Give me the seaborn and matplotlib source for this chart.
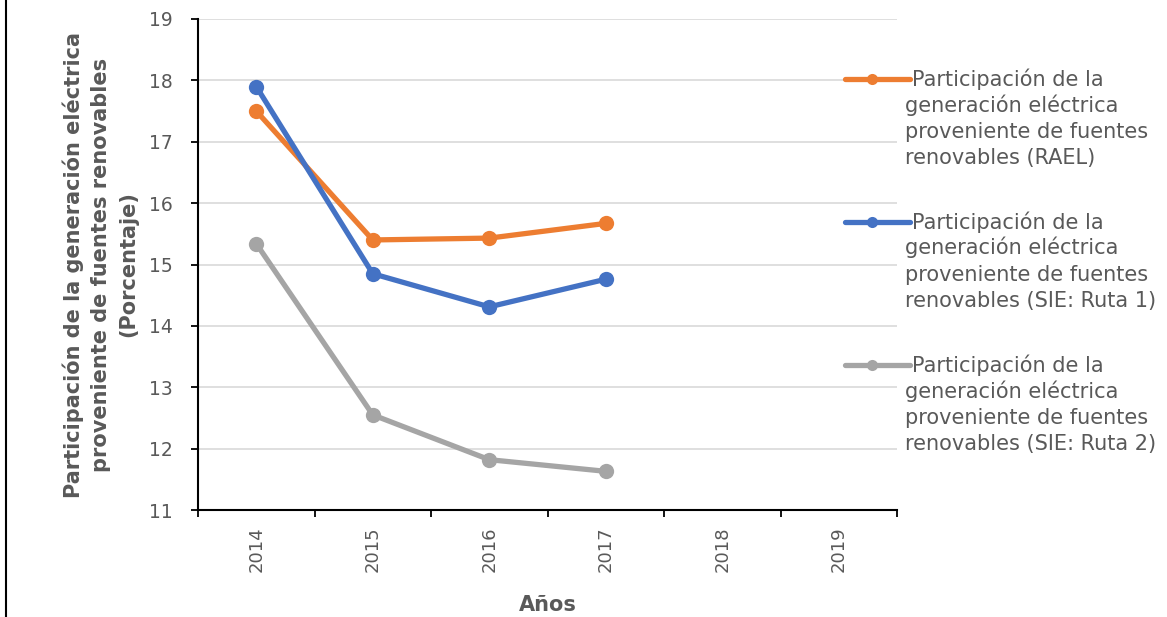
import matplotlib
matplotlib.use("Agg")
import matplotlib.pyplot as plt
import seaborn as sns
import pandas as pd
from matplotlib.ticker import MultipleLocator, FixedLocator
from matplotlib.lines import Line2D

# values
years = [2014, 2015, 2016, 2017, 2018, 2019]
data_years = [2014, 2015, 2016, 2017]
rael = [17.50, 15.40, 15.43, 15.67]
sie_ruta1 = [17.90, 14.85, 14.31, 14.76]
sie_ruta2 = [15.34, 12.55, 11.82, 11.63]

series_names = [
    "Participación de la\ngeneración eléctrica\nproveniente de fuentes\nrenovables (RAEL)",
    "Participación de la\ngeneración eléctrica\nproveniente de fuentes\nrenovables (SIE: Ruta 1)",
    "Participación de la\ngeneración eléctrica\nproveniente de fuentes\nrenovables (SIE: Ruta 2)",
]
colors = ["#ED7D31", "#4472C4", "#A5A5A5"]

df = pd.DataFrame({
    "year": data_years * 3,
    "value": rael + sie_ruta1 + sie_ruta2,
    "serie": [series_names[0]] * 4 + [series_names[1]] * 4 + [series_names[2]] * 4,
})

sns.set_style("white")
plt.rcParams["font.family"] = ["DejaVu Sans"]
text_gray = "#595959"

W, H = 1167, 617
fig = plt.figure(figsize=(W / 100, H / 100), dpi=100)
ax = fig.add_axes([198 / W, 1 - 510 / H, (897 - 198) / W, (510 - 19) / H])

sns.lineplot(data=df, x="year", y="value", hue="serie", palette=colors,
             marker="o", markersize=11, markeredgewidth=0, linewidth=3.8,
             ax=ax, legend=False)

ax.set_ylim(11, 19)
ax.set_xlim(2013.5, 2019.5)
ax.yaxis.set_major_locator(MultipleLocator(1))
ax.grid(axis="y", color="#D9D9D9", linewidth=1.2)
ax.set_axisbelow(True)

ax.set_xticks(years)
ax.set_xticklabels([str(y) for y in years], rotation=90, color=text_gray, fontsize=13)
ax.xaxis.set_minor_locator(FixedLocator([y - 0.5 for y in years] + [2019.5]))
ax.tick_params(axis="x", which="major", length=0, pad=12)
ax.tick_params(axis="x", which="minor", bottom=True, length=5, width=1.3,
               color="black", direction="out")
ax.tick_params(axis="y", left=True, length=5, width=1.3, color="black", labelsize=13.5,
               labelcolor=text_gray, pad=13)

for side in ["top", "right"]:
    ax.spines[side].set_visible(False)
for side in ["left", "bottom"]:
    ax.spines[side].set_color("black")
    ax.spines[side].set_linewidth(1.5)

ax.set_xlabel("Años", fontsize=15, fontweight="bold", color=text_gray, labelpad=16)
ax.set_ylabel("Participación de la generación eléctrica\nproveniente de fuentes renovables\n(Porcentaje)",
              fontsize=15, fontweight="bold", color=text_gray, labelpad=8, linespacing=1.45)

# legend drawn by hand: handle aligned with the first text line
legend_y = [79, 222, 365]
for name, c, yp in zip(series_names, colors, legend_y):
    fy = 1 - yp / H
    fig.add_artist(Line2D([845 / W, 910 / W], [fy, fy], transform=fig.transFigure,
                          color=c, linewidth=3.8))
    fig.add_artist(Line2D([872 / W], [fy], transform=fig.transFigure, color=c,
                          marker="o", markersize=8, markeredgewidth=0))
    lines = name.split("\n")
    fig.text(912 / W, fy, lines[0], ha="left", va="center", fontsize=15, color=text_gray)
    fig.text(905 / W, 1 - (yp + 15) / H, "\n".join(lines[1:]), ha="left", va="top",
             fontsize=15, color=text_gray, linespacing=1.38)

# left edge border of the figure
fig.add_artist(Line2D([0.005, 0.005], [0, 1], transform=fig.transFigure,
                      color="black", linewidth=1.5))

fig.savefig("out.png", dpi=100)
